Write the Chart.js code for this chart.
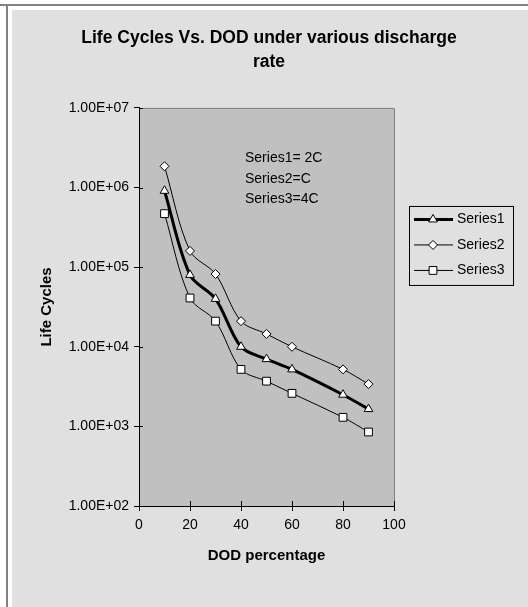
<!DOCTYPE html>
<html>
<head>
<meta charset="utf-8">
<script src="https://cdn.jsdelivr.net/npm/chart.js@4.4.1/dist/chart.umd.min.js"></script>
<style>
  html, body { margin: 0; padding: 0; background: #fff; }
  #wrap { width: 528px; height: 607px; }
</style>
</head>
<body>
<div id="wrap"><canvas id="chart" width="528" height="607"></canvas></div>
<script>
// values (log scale)
const dodValues = [10, 20, 30, 40, 50, 60, 80, 90];
const series1 = [9.1e5, 8.0e4, 4.0e4, 1.0e4, 7.0e3, 5.2e3, 2.5e3, 1.65e3];
const series2 = [1.85e6, 1.6e5, 8.2e4, 2.1e4, 1.45e4, 1.0e4, 5.2e3, 3.4e3];
const series3 = [4.7e5, 4.1e4, 2.1e4, 5.2e3, 3.7e3, 2.6e3, 1.3e3, 8.5e2];
const seriesNames = ['Series1', 'Series2', 'Series3'];
const noteLines = ['Series1= 2C', 'Series2=C', 'Series3=4C'];
const yTickValues = [1e2, 1e3, 1e4, 1e5, 1e6, 1e7];
const yTickLabels = ['1.00E+02', '1.00E+03', '1.00E+04', '1.00E+05', '1.00E+06', '1.00E+07'];

const FONT = '"Liberation Sans", Arial, sans-serif';
const PANEL = '#e0e0e0';
const PLOT = '#c0c0c0';
const EDGE = '#808080';

const toPoints = (vals) => vals.map((v, i) => ({ x: dodValues[i], y: v }));

const makeSet = (label, vals, width, style, radius) => ({
  label,
  data: toPoints(vals),
  borderColor: '#000',
  borderWidth: width,
  backgroundColor: '#fff',
  pointStyle: style,
  pointRadius: radius,
  pointHoverRadius: radius,
  pointBorderWidth: 1,
  pointBorderColor: '#000',
  pointBackgroundColor: '#fff',
  tension: 0.33,
  fill: false
});

// frame, plot background, inner tick halves, note text and legend
const frame = {
  id: 'frame',
  beforeDraw(chart) {
    const { ctx, width, height, chartArea: a } = chart;
    ctx.save();
    ctx.fillStyle = '#fff';
    ctx.fillRect(0, 0, width, height);
    ctx.fillStyle = EDGE;
    ctx.fillRect(0, 4, width, 2);
    ctx.fillRect(6, 4, 2, height - 4);
    ctx.fillStyle = PANEL;
    ctx.fillRect(12, 10, width - 12, height - 10);
    ctx.fillStyle = PLOT;
    ctx.fillRect(a.left, a.top, a.width, a.height);
    ctx.strokeStyle = EDGE;
    ctx.lineWidth = 1;
    ctx.beginPath();
    ctx.moveTo(a.left, a.top + 0.5);
    ctx.lineTo(a.right + 0.5, a.top + 0.5);
    ctx.lineTo(a.right + 0.5, a.bottom);
    ctx.stroke();
    ctx.restore();
  },
  beforeDatasetsDraw(chart) {
    const { ctx, chartArea: a, scales } = chart;
    ctx.save();
    ctx.strokeStyle = '#000';
    ctx.lineWidth = 1;
    ctx.beginPath();
    scales.y.ticks.forEach(t => {
      const py = Math.round(scales.y.getPixelForValue(t.value)) + 0.5;
      ctx.moveTo(a.left, py);
      ctx.lineTo(a.left + 4, py);
    });
    scales.x.ticks.forEach(t => {
      const px = Math.round(scales.x.getPixelForValue(t.value)) + 0.5;
      ctx.moveTo(px, a.bottom);
      ctx.lineTo(px, a.bottom - 5);
    });
    ctx.stroke();
    ctx.restore();
  },
  afterDraw(chart) {
    const { ctx, chartArea: a } = chart;
    ctx.save();
    ctx.font = '14px ' + FONT;
    ctx.fillStyle = '#000';
    ctx.textBaseline = 'middle';
    ctx.textAlign = 'left';
    noteLines.forEach((s, i) => ctx.fillText(s, a.left + 106, a.top + 50 + i * 20.7));

    // legend box
    const lx = a.right + 15, ly = a.top + 98, lw = 104, lh = 79;
    ctx.fillStyle = PANEL;
    ctx.fillRect(lx, ly, lw, lh);
    ctx.strokeStyle = '#000';
    ctx.lineWidth = 1;
    ctx.strokeRect(lx + 0.5, ly + 0.5, lw, lh);
    chart.data.datasets.forEach((ds, i) => {
      const cy = ly + 13.5 + i * 25.5;
      ctx.strokeStyle = '#000';
      ctx.lineWidth = ds.borderWidth;
      ctx.beginPath();
      ctx.moveTo(lx + 5, cy);
      ctx.lineTo(lx + 44, cy);
      ctx.stroke();
      ctx.fillStyle = '#fff';
      ctx.lineWidth = 1;
      if (Chart.helpers && Chart.helpers.drawPoint) {
        Chart.helpers.drawPoint(ctx, { pointStyle: ds.pointStyle, radius: ds.pointRadius, borderWidth: 1, rotation: 0 }, lx + 24, cy);
      }
      ctx.fillStyle = '#000';
      ctx.fillText(ds.label, lx + 48, cy);
    });
    ctx.restore();
  }
};

new Chart(document.getElementById('chart'), {
  type: 'line',
  data: {
    datasets: [
      makeSet(seriesNames[0], series1, 3, 'triangle', 5),
      makeSet(seriesNames[1], series2, 1, 'rectRot', 4.5),
      makeSet(seriesNames[2], series3, 1, 'rect', 5.5)
    ]
  },
  options: {
    responsive: false,
    animation: false,
    devicePixelRatio: 1,
    layout: { padding: { top: 10, left: 12, right: 2, bottom: 0 } },
    plugins: {
      legend: { display: false },
      tooltip: { enabled: false },
      title: {
        display: true,
        text: ['Life Cycles Vs. DOD under various discharge', 'rate'],
        color: '#000',
        font: { family: FONT, size: 17.5, weight: 'bold', lineHeight: 1.37 },
        padding: { top: 16, bottom: 34 }
      }
    },
    scales: {
      x: {
        type: 'linear',
        min: 0,
        max: 100,
        ticks: { stepSize: 20, color: '#000', padding: 6, maxRotation: 0, font: { family: FONT, size: 14 } },
        grid: { drawOnChartArea: false, tickLength: 5, color: '#000' },
        border: { color: '#000', width: 1 },
        title: {
          display: true,
          text: 'DOD percentage',
          color: '#000',
          font: { family: FONT, size: 15, weight: 'bold', lineHeight: 1.2 },
          padding: { top: 0, bottom: 42 }
        },
        afterFit(s) { s.height = 101; }
      },
      y: {
        type: 'logarithmic',
        min: 100,
        max: 1e7,
        afterBuildTicks(s) { s.ticks = yTickValues.map(v => ({ value: v })); },
        ticks: {
          color: '#000',
          padding: 5,
          font: { family: FONT, size: 14 },
          callback: (v) => yTickLabels[yTickValues.indexOf(v)]
        },
        grid: { drawOnChartArea: false, tickLength: 5, color: '#000' },
        border: { color: '#000', width: 1 },
        title: {
          display: true,
          text: 'Life Cycles',
          color: '#000',
          font: { family: FONT, size: 15, weight: 'bold', lineHeight: 1.2 },
          padding: { top: 26, bottom: 0 }
        },
        afterFit(s) { s.width = 127; }
      },
      // empty right-hand band that holds the legend area
      gap: {
        type: 'linear',
        position: 'right',
        display: true,
        ticks: { display: false },
        grid: { display: false },
        border: { display: false },
        afterFit(s) { s.width = 132; }
      }
    }
  },
  plugins: [frame]
});
</script>
</body>
</html>
